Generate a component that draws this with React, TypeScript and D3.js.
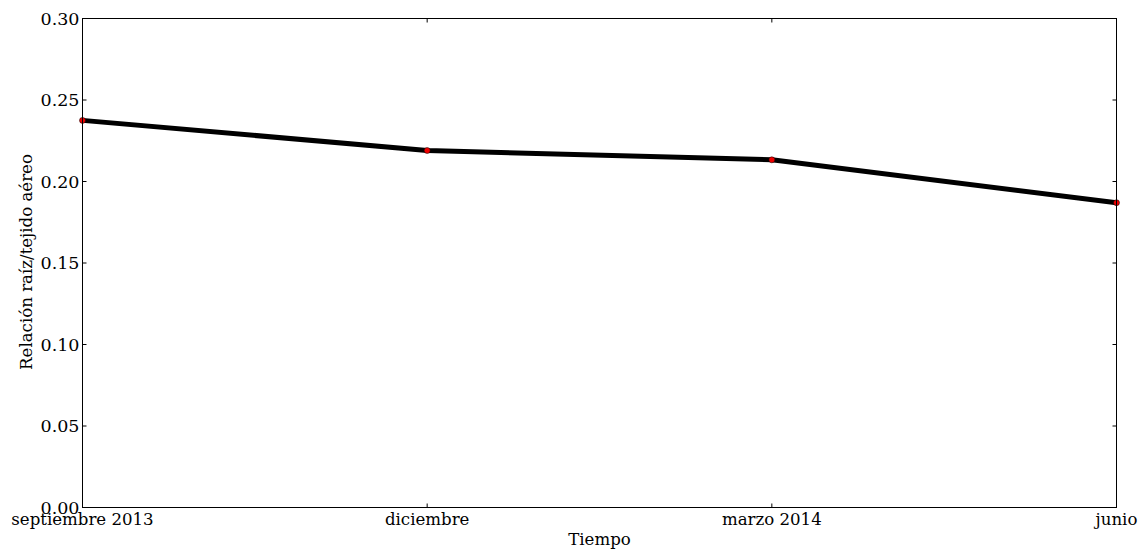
import React from "react";
import * as d3 from "d3";

const categories = ["septiembre 2013", "diciembre", "marzo 2014", "junio"];
const values = [0.2375, 0.219, 0.2133, 0.187];
const yTicks = [0, 0.05, 0.1, 0.15, 0.2, 0.25, 0.3];

const W = 1142, H = 554;
const L = 82.5, R = 1116.5, T = 18.5, B = 507.5;
const font = "'DejaVu Serif', serif";

export default function App() {
  const x = d3.scalePoint<string>().domain(categories).range([L, R]);
  const y = d3.scaleLinear().domain([0, 0.3]).range([B, T]);
  const line = d3.line<number>().x((_, i) => x(categories[i])!).y(d => y(d));
  return (
    <svg width={W} height={H} style={{ position: "absolute", left: 0, top: 0 }}>
      <rect x={0} y={0} width={W} height={H} fill="#fff" />
      <path d={line(values)!} fill="none" stroke="#000" strokeWidth={5} strokeLinejoin="round" />
      {values.map((v, i) => (
        <circle key={i} cx={x(categories[i])} cy={y(v)} r={3} fill="#e00" stroke="#000" strokeWidth={0.5} />
      ))}
      <rect x={L} y={T} width={R - L} height={B - T} fill="none" stroke="#000" strokeWidth={1} />
      {yTicks.map(t => (
        <g key={t}>
          <line x1={L} x2={L + 4} y1={y(t)} y2={y(t)} stroke="#000" />
          <line x1={R} x2={R - 4} y1={y(t)} y2={y(t)} stroke="#000" />
          <text x={L - 3} y={y(t)} dy="0.35em" textAnchor="end" fontFamily={font} fontSize={17.5}>{t.toFixed(2)}</text>
        </g>
      ))}
      {categories.map(c => (
        <g key={c}>
          <line x1={x(c)} x2={x(c)} y1={B} y2={B - 4} stroke="#000" />
          <line x1={x(c)} x2={x(c)} y1={T} y2={T + 4} stroke="#000" />
          <text x={x(c)} y={B + 17} textAnchor="middle" fontFamily={font} fontSize={16.6}>{c}</text>
        </g>
      ))}
      <text x={(L + R) / 2} y={545} textAnchor="middle" fontFamily={font} fontSize={16.6}>Tiempo</text>
      <text transform={`translate(32,${(T + B) / 2 - 1}) rotate(-90)`} textAnchor="middle" fontFamily={font} fontSize={16.6}>Relación raíz/tejido aéreo</text>
    </svg>
  );
}
